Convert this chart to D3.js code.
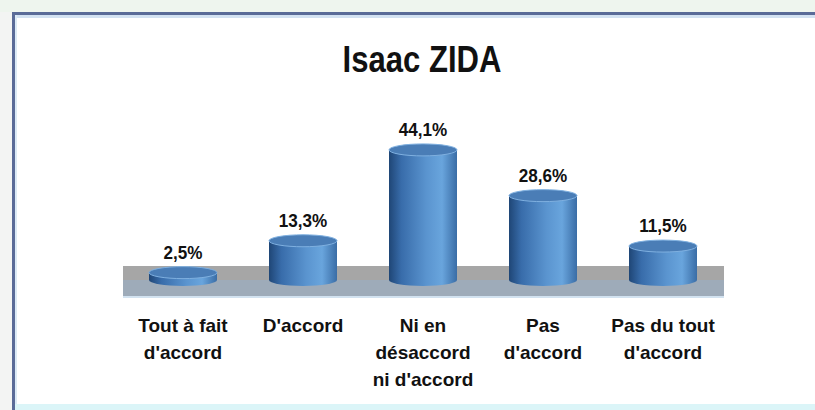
<!DOCTYPE html>
<html>
<head>
<meta charset="utf-8">
<script src="https://cdn.jsdelivr.net/npm/d3@7"></script>
<style>
  body { margin: 0; background: #f3f4f3; }
  svg { display: block; }
  text { font-family: "Liberation Sans Narrow", "Arial Narrow", "Liberation Sans", sans-serif; font-weight: bold; fill: #111; }
</style>
</head>
<body>
<div id="chart"></div>
<script>
'use strict';

// data
var title = 'Isaac ZIDA';
var categories = ['Tout à fait d\'accord', 'D\'accord', 'Ni en désaccord ni d\'accord', 'Pas d\'accord', 'Pas du tout d\'accord'];
var categoryLines = [
  ['Tout à fait', 'd\'accord'],
  ['D\'accord'],
  ['Ni en', 'désaccord', 'ni d\'accord'],
  ['Pas', 'd\'accord'],
  ['Pas du tout', 'd\'accord']
];
var values = [2.5, 13.3, 44.1, 28.6, 11.5];
var valueLabels = ['2,5%', '13,3%', '44,1%', '28,6%', '11,5%'];

var width = 815,
  height = 410,
  baseY = 280,
  barW = 68,
  ry = 6;

var svg = d3.select('#chart').append('svg')
  .attr('width', width)
  .attr('height', height);

var defs = svg.append('defs');
var grad = defs.append('linearGradient').attr('id', 'cyl')
  .attr('x1', '0%').attr('x2', '100%').attr('y1', '0%').attr('y2', '0%');
grad.append('stop').attr('offset', '0%').attr('stop-color', '#1f4676');
grad.append('stop').attr('offset', '18%').attr('stop-color', '#386caa');
grad.append('stop').attr('offset', '55%').attr('stop-color', '#5a94cf');
grad.append('stop').attr('offset', '78%').attr('stop-color', '#69a5dd');
grad.append('stop').attr('offset', '100%').attr('stop-color', '#3a6da6');

// frame
svg.append('rect').attr('x', 0).attr('y', 0).attr('width', width).attr('height', 12).attr('fill', '#eef5ee');
svg.append('rect').attr('x', 14).attr('y', 14).attr('width', width - 14).attr('height', height - 14).attr('fill', '#ffffff');
svg.append('rect').attr('x', 12).attr('y', 12).attr('width', width - 12).attr('height', 3).attr('fill', '#5a6b98');
svg.append('rect').attr('x', 12).attr('y', 12).attr('width', 3).attr('height', height - 12).attr('fill', '#5a6b98');
svg.append('rect').attr('x', 15).attr('y', 15).attr('width', width - 15).attr('height', 3).attr('fill', '#d3e2f2');
svg.append('rect').attr('x', 15).attr('y', 15).attr('width', 2).attr('height', height - 15).attr('fill', '#dceaf6');
svg.append('rect').attr('x', 15).attr('y', height - 6).attr('width', width - 15).attr('height', 6).attr('fill', '#dbf5f8');

var x = d3.scalePoint()
  .domain(categories)
  .range([183, 663]);

var y = d3.scaleLinear()
  .domain([0, 50])
  .range([baseY, baseY - 147.5]);

// floor
svg.append('rect').attr('x', 123).attr('y', 266).attr('width', 601).attr('height', 14).attr('fill', '#a6a6a6');
svg.append('rect').attr('x', 123).attr('y', 280).attr('width', 601).attr('height', 16).attr('fill', '#9eabb9');
svg.append('rect').attr('x', 123).attr('y', 296).attr('width', 601).attr('height', 2).attr('fill', '#d2e2f0');

// title, condensed like the original narrow face
svg.append('text')
  .attr('transform', 'translate(422,72) scale(0.84,1)')
  .attr('text-anchor', 'middle')
  .style('font-size', '37px')
  .text(title);

var bars = svg.selectAll('g.bar')
  .data(values)
  .enter()
  .append('g')
  .attr('class', 'bar');

bars.append('ellipse')
  .attr('cx', function(d, i) { return x(categories[i]); })
  .attr('cy', y(0))
  .attr('rx', barW / 2)
  .attr('ry', ry)
  .attr('fill', 'url(#cyl)');

bars.append('rect')
  .attr('x', function(d, i) { return x(categories[i]) - barW / 2; })
  .attr('y', function(d) { return y(d); })
  .attr('width', barW)
  .attr('height', function(d) { return y(0) - y(d); })
  .attr('fill', 'url(#cyl)');

bars.append('ellipse')
  .attr('cx', function(d, i) { return x(categories[i]); })
  .attr('cy', function(d) { return y(d); })
  .attr('rx', barW / 2)
  .attr('ry', ry)
  .attr('fill', '#4a7db6')
  .attr('stroke', '#7fb0e0')
  .attr('stroke-width', 1);

bars.append('text')
  .attr('transform', function(d, i) { return 'translate(' + x(categories[i]) + ',' + (y(d) - 14) + ') scale(0.9,1)'; })
  .attr('text-anchor', 'middle')
  .style('font-size', '19px')
  .text(function(d, i) { return valueLabels[i]; });

// category labels
var labels = svg.selectAll('text.cat')
  .data(categoryLines)
  .enter()
  .append('text')
  .attr('class', 'cat')
  .attr('text-anchor', 'middle')
  .style('font-size', '19px');

labels.selectAll('tspan')
  .data(function(d, i) { return d.map(function(s) { return {s: s, i: i}; }); })
  .enter()
  .append('tspan')
  .attr('x', function(d) { return x(categories[d.i]); })
  .attr('y', function(d, j) { return 332 + j * 27; })
  .text(function(d) { return d.s; });
</script>
</body>
</html>
